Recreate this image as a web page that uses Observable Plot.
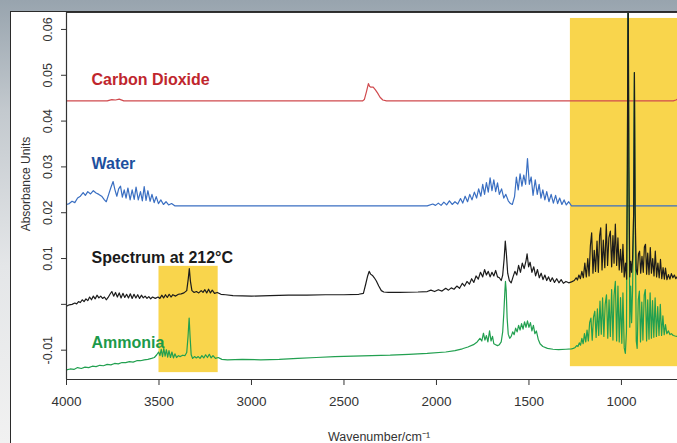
<!DOCTYPE html>
<html>
<head>
<meta charset="utf-8">
<script src="https://cdn.jsdelivr.net/npm/d3@7"></script>
<script src="https://cdn.jsdelivr.net/npm/@observablehq/plot@0.6"></script>
<style>
  html, body { margin: 0; padding: 0; }
  body {
    width: 677px; height: 443px; overflow: hidden; position: relative;
    background: linear-gradient(180deg, #98a4ae 0%, #c3c9ce 25%, #e4e6e8 60%, #f1f1f1 100%);
    font-family: "Liberation Sans", Arial, Helvetica, sans-serif;
  }
  #panel {
    position: absolute; left: 10px; top: 11px; width: 700px; height: 460px;
    background: #fff; border-left: 1.5px solid #2b2b2b; border-top: 1.5px solid #2b2b2b;
  }
  #chart { position: absolute; left: 0; top: 0; }
</style>
</head>
<body>
<div id="panel"></div>
<div id="chart"></div>
<script>
// ---- data (wavenumber cm-1, absorbance units) ----
const xTicks = [4000, 3500, 3000, 2500, 2000, 1500, 1000];
const yTicks = [-0.01, 0, 0.01, 0.02, 0.03, 0.04, 0.05, 0.06];
const yTickLabels = ["-0.01", "", "0.01", "0.02", "0.03", "0.04", "0.05", "0.06"];
const xDomain = [4000, 697];
const yDomain = [-0.0164, 0.0637];

const seriesNames = ["Carbon Dioxide", "Water", "Spectrum at 212°C", "Ammonia"];
const labelWavenumber = [3865, 3865, 3865, 3865];
const labelAbsorbance = [0.0491, 0.0307, 0.0101, -0.0083];

// highlighted regions: [wn start, wn end, abs low, abs high]
const highlightBands = [
  [3500, 3180, -0.0149, 0.0083],
  [1276, 650, -0.0136, 0.0624]
];

const co2 = [
  [4000, 0.0444], [3780, 0.0444], [3755, 0.0447], [3735, 0.0446], [3715, 0.0448], [3690, 0.0444],
  [2400, 0.0444], [2390, 0.0447], [2378, 0.0465], [2368, 0.0482], [2362, 0.0476], [2355, 0.0474],
  [2342, 0.0474], [2330, 0.0468], [2318, 0.0461], [2305, 0.0452], [2290, 0.0446], [2270, 0.0444],
  [720, 0.0444], [705, 0.0446], [697, 0.0448]
];

const water = [
  [4000, 0.0218], [3985, 0.0220], [3970, 0.0225], [3955, 0.0222], [3940, 0.0232], [3925, 0.0236],
  [3910, 0.0244], [3898, 0.0238], [3885, 0.0246], [3870, 0.0241], [3855, 0.0248], [3840, 0.0243],
  [3825, 0.0240], [3810, 0.0236], [3795, 0.0228], [3785, 0.0224], [3772, 0.0240], [3760, 0.0255],
  [3748, 0.0268], [3738, 0.0250], [3728, 0.0236], [3718, 0.0252], [3708, 0.0258], [3698, 0.0234],
  [3688, 0.0250], [3678, 0.0232], [3668, 0.0254], [3656, 0.0228], [3645, 0.0250], [3634, 0.0229],
  [3624, 0.0256], [3612, 0.0228], [3600, 0.0246], [3590, 0.0226], [3580, 0.0257], [3570, 0.0227],
  [3560, 0.0248], [3548, 0.0225], [3538, 0.0240], [3526, 0.0222], [3515, 0.0235], [3503, 0.0220],
  [3490, 0.0228], [3476, 0.0218], [3462, 0.0224], [3448, 0.0217], [3432, 0.0220], [3415, 0.0215],
  [2050, 0.0215], [2020, 0.0219], [2005, 0.0216], [1990, 0.0221], [1975, 0.0216], [1960, 0.0223],
  [1945, 0.0217], [1930, 0.0226], [1915, 0.0218], [1900, 0.0224], [1885, 0.0219], [1870, 0.0231],
  [1858, 0.0221], [1845, 0.0236], [1832, 0.0224], [1820, 0.0240], [1808, 0.0228], [1795, 0.0245],
  [1783, 0.0232], [1772, 0.0252], [1760, 0.0236], [1750, 0.0262], [1740, 0.0240], [1730, 0.0266],
  [1720, 0.0245], [1710, 0.0276], [1700, 0.0248], [1690, 0.0272], [1680, 0.0246], [1670, 0.0265],
  [1660, 0.0240], [1648, 0.0252], [1636, 0.0232], [1625, 0.0240], [1612, 0.0226], [1600, 0.0220],
  [1590, 0.0218], [1578, 0.0235], [1568, 0.0278], [1558, 0.0250], [1548, 0.0285], [1538, 0.0258],
  [1528, 0.0282], [1518, 0.0262], [1508, 0.0318], [1498, 0.0262], [1488, 0.0278], [1478, 0.0238],
  [1466, 0.0272], [1455, 0.0240], [1445, 0.0262], [1435, 0.0232], [1425, 0.0250], [1414, 0.0228],
  [1404, 0.0246], [1392, 0.0224], [1380, 0.0240], [1368, 0.0221], [1356, 0.0238], [1345, 0.0220],
  [1334, 0.0232], [1322, 0.0218], [1310, 0.0228], [1298, 0.0217], [1285, 0.0224], [1270, 0.0215],
  [697, 0.0215]
];

const spectrum212 = [
  [4000, -0.0004], [3985, -0.0001], [3970, 0.0000], [3955, 0.0003], [3945, 0.0001], [3935, 0.0006],
  [3925, 0.0004], [3915, 0.0010], [3905, 0.0006], [3895, 0.0012], [3885, 0.0008], [3875, 0.0016],
  [3865, 0.0010], [3855, 0.0018], [3845, 0.0012], [3835, 0.0020], [3825, 0.0014], [3815, 0.0018],
  [3805, 0.0013], [3795, 0.0016], [3785, 0.0010], [3775, 0.0015], [3765, 0.0022], [3755, 0.0028],
  [3745, 0.0018], [3735, 0.0026], [3725, 0.0016], [3715, 0.0025], [3705, 0.0014], [3695, 0.0024],
  [3685, 0.0015], [3675, 0.0022], [3665, 0.0014], [3655, 0.0023], [3645, 0.0013], [3635, 0.0022],
  [3625, 0.0014], [3615, 0.0021], [3605, 0.0013], [3595, 0.0020], [3585, 0.0014], [3575, 0.0018],
  [3565, 0.0013], [3555, 0.0017], [3545, 0.0012], [3535, 0.0016], [3520, 0.0013], [3505, 0.0016],
  [3495, 0.0013], [3485, 0.0020], [3475, 0.0014], [3465, 0.0021], [3455, 0.0015], [3445, 0.0022],
  [3435, 0.0016], [3425, 0.0021], [3410, 0.0018], [3395, 0.0022], [3380, 0.0023], [3365, 0.0025],
  [3350, 0.0030], [3342, 0.0055], [3336, 0.0078], [3330, 0.0050], [3322, 0.0030], [3310, 0.0026],
  [3298, 0.0028], [3285, 0.0025], [3272, 0.0030], [3262, 0.0026], [3252, 0.0032], [3242, 0.0025],
  [3232, 0.0033], [3222, 0.0025], [3212, 0.0031], [3200, 0.0024], [3185, 0.0026], [3165, 0.0022],
  [3140, 0.0021], [3100, 0.0019], [3000, 0.0018], [2900, 0.0019], [2800, 0.0020], [2700, 0.0020],
  [2600, 0.0021], [2500, 0.0021], [2420, 0.0022], [2395, 0.0024], [2382, 0.0045], [2372, 0.0062],
  [2364, 0.0072], [2356, 0.0066], [2346, 0.0063], [2336, 0.0058], [2325, 0.0051], [2312, 0.0040],
  [2298, 0.0030], [2285, 0.0027], [2260, 0.0026], [2200, 0.0026], [2100, 0.0027], [2050, 0.0028],
  [2030, 0.0031], [2010, 0.0028], [1990, 0.0032], [1970, 0.0029], [1950, 0.0035], [1935, 0.0031],
  [1920, 0.0036], [1905, 0.0033], [1890, 0.0040], [1875, 0.0035], [1860, 0.0046], [1848, 0.0040],
  [1835, 0.0050], [1822, 0.0044], [1810, 0.0056], [1798, 0.0048], [1786, 0.0062], [1774, 0.0055],
  [1762, 0.0070], [1750, 0.0060], [1740, 0.0076], [1730, 0.0064], [1720, 0.0072], [1710, 0.0060],
  [1700, 0.0070], [1690, 0.0062], [1680, 0.0074], [1670, 0.0060], [1660, 0.0058], [1650, 0.0052],
  [1642, 0.0064], [1634, 0.0100], [1628, 0.0138], [1622, 0.0110], [1615, 0.0068], [1606, 0.0052],
  [1596, 0.0047], [1586, 0.0060], [1576, 0.0072], [1566, 0.0064], [1556, 0.0085], [1546, 0.0070],
  [1536, 0.0090], [1526, 0.0078], [1516, 0.0095], [1510, 0.0110], [1502, 0.0082], [1494, 0.0092],
  [1484, 0.0070], [1474, 0.0082], [1464, 0.0062], [1454, 0.0076], [1444, 0.0058], [1434, 0.0068],
  [1424, 0.0054], [1414, 0.0064], [1404, 0.0052], [1394, 0.0060], [1384, 0.0050], [1374, 0.0058],
  [1362, 0.0048], [1350, 0.0056], [1338, 0.0047], [1326, 0.0054], [1314, 0.0046], [1300, 0.0050],
  [1285, 0.0047], [1270, 0.0049], [1255, 0.0052], [1245, 0.0058], [1238, 0.0053], [1230, 0.0064],
  [1222, 0.0056], [1214, 0.0072], [1206, 0.0058], [1198, 0.0090], [1190, 0.0060], [1182, 0.0100],
  [1175, 0.0062], [1168, 0.0128], [1161, 0.0156], [1154, 0.0068], [1147, 0.0118], [1140, 0.0072],
  [1132, 0.0138], [1125, 0.0070], [1118, 0.0150], [1112, 0.0167], [1105, 0.0075], [1098, 0.0140],
  [1090, 0.0080], [1082, 0.0175], [1075, 0.0085], [1068, 0.0145], [1060, 0.0160], [1053, 0.0082],
  [1046, 0.0150], [1040, 0.0090], [1033, 0.0175], [1026, 0.0085], [1019, 0.0145], [1012, 0.0075],
  [1005, 0.0120], [998, 0.0070], [992, 0.0131], [985, 0.0060], [978, 0.0090], [972, 0.0055],
  [968, 0.0300], [964, 0.0750], [960, 0.0300], [955, 0.0060], [950, 0.0094], [945, 0.0070],
  [940, 0.0098], [934, 0.0200], [930, 0.0506], [926, 0.0200], [920, 0.0075], [914, 0.0065],
  [908, 0.0110], [902, 0.0116], [896, 0.0068], [889, 0.0105], [882, 0.0070], [876, 0.0125],
  [870, 0.0131], [864, 0.0066], [858, 0.0112], [851, 0.0065], [844, 0.0124], [838, 0.0068],
  [831, 0.0100], [824, 0.0062], [817, 0.0116], [810, 0.0060], [803, 0.0090], [796, 0.0058],
  [789, 0.0098], [782, 0.0056], [775, 0.0080], [768, 0.0055], [762, 0.0079], [754, 0.0054],
  [746, 0.0065], [738, 0.0055], [730, 0.0067], [722, 0.0058], [714, 0.0064], [706, 0.0056],
  [697, 0.0061]
];

const ammonia = [
  [4000, -0.0143], [3980, -0.0141], [3960, -0.0142], [3940, -0.0138], [3920, -0.0140], [3900, -0.0137],
  [3880, -0.0138], [3860, -0.0135], [3840, -0.0136], [3820, -0.0133], [3800, -0.0134], [3780, -0.0131],
  [3760, -0.0132], [3740, -0.0129], [3720, -0.0130], [3700, -0.0127], [3680, -0.0127], [3660, -0.0125],
  [3640, -0.0126], [3620, -0.0123], [3600, -0.0123], [3580, -0.0121], [3560, -0.0120], [3540, -0.0118],
  [3525, -0.0116], [3512, -0.0110], [3502, -0.0104], [3495, -0.0112], [3488, -0.0098], [3481, -0.0114],
  [3474, -0.0096], [3467, -0.0113], [3460, -0.0099], [3453, -0.0115], [3446, -0.0101], [3438, -0.0116],
  [3430, -0.0104], [3422, -0.0117], [3414, -0.0108], [3405, -0.0116], [3395, -0.0112], [3385, -0.0114],
  [3372, -0.0111], [3360, -0.0112], [3350, -0.0105], [3343, -0.0070], [3337, -0.0030], [3332, -0.0070],
  [3326, -0.0110], [3318, -0.0118], [3308, -0.0114], [3298, -0.0117], [3288, -0.0114], [3278, -0.0118],
  [3268, -0.0112], [3258, -0.0117], [3248, -0.0110], [3238, -0.0116], [3228, -0.0109], [3218, -0.0117],
  [3208, -0.0112], [3195, -0.0118], [3180, -0.0116], [3160, -0.0120], [3130, -0.0121], [3050, -0.0120],
  [2950, -0.0121], [2850, -0.0120], [2750, -0.0118], [2650, -0.0116], [2550, -0.0114], [2450, -0.0113],
  [2350, -0.0112], [2250, -0.0111], [2150, -0.0109], [2050, -0.0107], [1950, -0.0104], [1900, -0.0101],
  [1860, -0.0097], [1830, -0.0093], [1800, -0.0088], [1780, -0.0082], [1765, -0.0074], [1755, -0.0080],
  [1746, -0.0063], [1738, -0.0078], [1730, -0.0068], [1722, -0.0082], [1713, -0.0058], [1705, -0.0080],
  [1697, -0.0070], [1690, -0.0086], [1680, -0.0088], [1670, -0.0090], [1660, -0.0088], [1650, -0.0082],
  [1642, -0.0060], [1636, -0.0020], [1630, 0.0030], [1627, 0.0050], [1623, 0.0030], [1618, -0.0030],
  [1612, -0.0065], [1604, -0.0074], [1596, -0.0070], [1588, -0.0060], [1580, -0.0066], [1572, -0.0052],
  [1564, -0.0060], [1556, -0.0046], [1548, -0.0056], [1540, -0.0042], [1532, -0.0054], [1524, -0.0038],
  [1516, -0.0050], [1508, -0.0036], [1500, -0.0050], [1492, -0.0040], [1484, -0.0058], [1476, -0.0046],
  [1468, -0.0064], [1460, -0.0058], [1450, -0.0076], [1440, -0.0086], [1425, -0.0092], [1400, -0.0096],
  [1370, -0.0098], [1340, -0.0099], [1300, -0.0098], [1270, -0.0097], [1260, -0.0096], [1250, -0.0094],
  [1242, -0.0090], [1235, -0.0092], [1228, -0.0084], [1221, -0.0089], [1214, -0.0074], [1207, -0.0086],
  [1200, -0.0064], [1193, -0.0082], [1186, -0.0056], [1179, -0.0080], [1172, -0.0040], [1165, -0.0030],
  [1158, -0.0078], [1151, -0.0028], [1144, -0.0015], [1137, -0.0072], [1130, -0.0010], [1123, -0.0068],
  [1116, 0.0007], [1109, -0.0065], [1102, 0.0014], [1095, -0.0070], [1088, 0.0000], [1081, 0.0021],
  [1074, -0.0074], [1067, 0.0010], [1060, -0.0070], [1053, 0.0032], [1046, -0.0078], [1040, 0.0020],
  [1033, 0.0050], [1026, -0.0080], [1019, 0.0040], [1012, -0.0082], [1005, 0.0015], [998, -0.0085],
  [992, 0.0025], [985, -0.0095], [979, -0.0107], [973, -0.0060], [968, 0.0300], [964, 0.0750],
  [960, 0.0300], [955, -0.0050], [950, 0.0040], [945, -0.0040], [940, 0.0030], [934, 0.0200],
  [930, 0.0506], [926, 0.0200], [920, -0.0080], [915, -0.0096], [909, 0.0010], [903, 0.0029],
  [897, -0.0082], [890, 0.0005], [884, -0.0078], [877, 0.0020], [871, 0.0032], [864, -0.0080],
  [858, 0.0010], [851, -0.0076], [845, 0.0025], [838, -0.0074], [832, 0.0008], [825, -0.0072],
  [818, 0.0014], [811, -0.0070], [804, -0.0005], [797, -0.0068], [790, 0.0000], [783, -0.0068],
  [776, -0.0025], [769, -0.0066], [762, -0.0044], [755, -0.0064], [746, -0.0058], [738, -0.0066],
  [730, -0.0064], [720, -0.0068], [710, -0.0069], [697, -0.0070]
];

// ---- styling ----
const lineColors = ["#d04a4e", "#3a6fc2", "#1c1c1c", "#22a050"];
const labelColors = ["#c0262d", "#1d4f9e", "#1a1a1a", "#1c9a4a"];
const yellow = "#f9d54c";
const axisColor = "#333";
const font = "'Liberation Sans', Arial, Helvetica, sans-serif";

const bands = highlightBands.map(([x1, x2, y1, y2]) => ({x1, x2, y1, y2}));
const labels = seriesNames.map((name, i) => ({name, x: labelWavenumber[i], y: labelAbsorbance[i], color: labelColors[i]}));
const yLab = yTicks.map((v, i) => ({v, t: yTickLabels[i]}));

const series = [co2, water, ammonia, spectrum212];
const seriesColor = [lineColors[0], lineColors[1], lineColors[3], lineColors[2]];

const chart = Plot.plot({
  width: 677,
  height: 443,
  marginLeft: 66,
  marginRight: 0,
  marginTop: 12,
  marginBottom: 64,
  style: {background: "transparent", fontFamily: font, overflow: "visible"},
  x: {domain: xDomain},
  y: {domain: yDomain},
  marks: [
    Plot.rect(bands, {x1: "x1", x2: "x2", y1: "y1", y2: "y2", fill: yellow, clip: true}),
    ...series.map((s, i) => Plot.line(s, {x: d => d[0], y: d => d[1], stroke: seriesColor[i], strokeWidth: 1.2, clip: true, curve: "linear"})),
    Plot.ruleX([xDomain[0]], {stroke: axisColor, strokeWidth: 1.2}),
    Plot.ruleY([yDomain[0]], {stroke: axisColor, strokeWidth: 1.2}),
    Plot.ruleY([yDomain[1]], {stroke: axisColor, strokeWidth: 1.2}),
    Plot.axisX(xTicks, {tickSize: 6, tickPadding: 11, fontSize: 13.5, color: axisColor, label: null, tickFormat: d => String(d)}),
    Plot.axisY(yTicks, {tickSize: 5, tickFormat: () => "", label: null, color: axisColor}),
    Plot.text(yLab, {x: xDomain[0], y: "v", text: "t", rotate: -90, dx: -19, textAnchor: "middle", lineAnchor: "middle", fontSize: 12.5, fill: axisColor}),
    Plot.text(labels, {x: "x", y: "y", text: "name", fill: "color", textAnchor: "start", lineAnchor: "middle", fontSize: 16, fontWeight: "bold"}),
    Plot.text(["Absorbance Units"], {frameAnchor: "left", rotate: -90, dx: -40, dy: -12, textAnchor: "middle", lineAnchor: "middle", fontSize: 12, fill: axisColor}),
    Plot.text(["Wavenumber/cm\u207B\u00B9"], {frameAnchor: "bottom", dx: 7, dy: 57, textAnchor: "middle", lineAnchor: "middle", fontSize: 12.5, fill: axisColor})
  ]
});
document.getElementById("chart").appendChild(chart);
</script>
</body>
</html>
